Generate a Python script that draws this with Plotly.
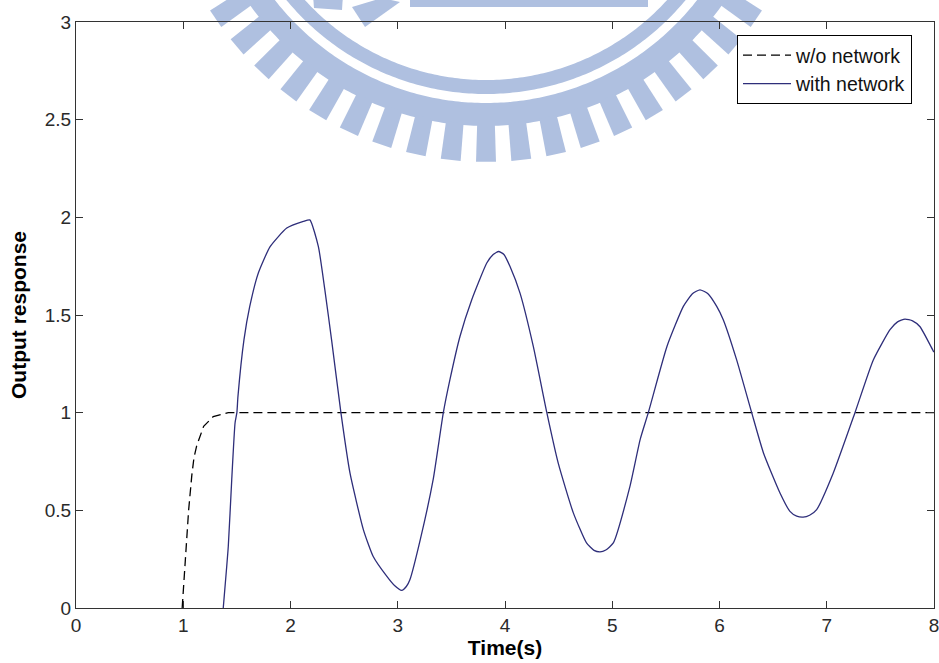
import numpy as np
import plotly.graph_objects as go

# ---------------- data ----------------
t_without = [0.99, 1.02, 1.05, 1.08, 1.10, 1.125, 1.19, 1.28, 1.42, 8.0]
y_without = [0.0, 0.25, 0.50, 0.68, 0.77, 0.83, 0.93, 0.98, 1.0, 1.0]

t_with = [1.373, 1.42, 1.452, 1.483, 1.50, 1.51, 1.566, 1.62, 1.70, 1.81, 1.965,
          2.12, 2.18, 2.26, 2.32, 2.383, 2.47, 2.555, 2.68, 2.77, 2.897, 2.97,
          3.037, 3.08, 3.114, 3.21, 3.33, 3.425, 3.487, 3.58, 3.69, 3.83, 3.89,
          3.94, 3.99, 4.047, 4.14, 4.264, 4.39, 4.497, 4.637, 4.76, 4.83, 4.886,
          4.94, 5.01, 5.165, 5.26, 5.336, 5.51, 5.663, 5.75, 5.818, 5.89, 5.974,
          6.035, 6.16, 6.30, 6.41, 6.564, 6.657, 6.72, 6.78, 6.84, 6.906, 7.06,
          7.263, 7.434, 7.59, 7.66, 7.73, 7.80, 7.87, 7.995, 8.0]
y_with = [0.0, 0.316, 0.657, 0.947, 1.0, 1.083, 1.373, 1.544, 1.715, 1.85, 1.945,
          1.979, 1.987, 1.85, 1.63, 1.373, 1.0, 0.69, 0.40, 0.265, 0.163, 0.115,
          0.09, 0.11, 0.146, 0.35, 0.657, 1.0, 1.17, 1.39, 1.578, 1.766, 1.81,
          1.825, 1.81, 1.748, 1.612, 1.339, 1.0, 0.74, 0.487, 0.333, 0.295, 0.287,
          0.297, 0.333, 0.623, 0.862, 1.0, 1.339, 1.544, 1.61, 1.629, 1.61, 1.544,
          1.476, 1.27, 1.0, 0.794, 0.589, 0.495, 0.47, 0.465, 0.475, 0.504, 0.69,
          1.0, 1.27, 1.425, 1.465, 1.479, 1.47, 1.44, 1.314, 1.31]

x_ticks = [0, 1, 2, 3, 4, 5, 6, 7, 8]
x_ticklabels = ["0", "1", "2", "3", "4", "5", "6", "7", "8"]
y_ticks = [0, 0.5, 1, 1.5, 2, 2.5, 3]
y_ticklabels = ["0", "0.5", "1", "1.5", "2", "2.5", "3"]

series_names = ["w/o network", "with network"]

# ---------------- layout geometry ----------------
W, H = 939, 663
ML, MR, MT, MB = 76, 5, 22, 55
PW, PH = W - ML - MR, H - MT - MB
FONT = "Liberation Sans, Arial, Helvetica, sans-serif"


def to_paper(px, py):
    return (px - ML) / PW, (H - MB - py) / PH


def poly_path(points):
    pts = [to_paper(x, y) for x, y in points]
    return "M " + " L ".join(f"{x:.5f},{y:.5f}" for x, y in pts) + " Z"


# ---------------- watermark (light-blue logo behind the plot) ----------------
WM = "#afc0e0"
cx, cy = 486.0, -165.0
shapes = []


def ring(r0, r1, n=260):
    th = np.linspace(0, np.pi, n)
    outer = [(cx + r1 * np.cos(a), cy + r1 * np.sin(a)) for a in th]
    inner = [(cx + r0 * np.cos(a), cy + r0 * np.sin(a)) for a in th[::-1]]
    return outer + inner


def wedge(r0, r1, ac, half):
    a0, a1 = ac - half, ac + half
    return [(cx + r0 * np.cos(a0), cy + r0 * np.sin(a0)),
            (cx + r1 * np.cos(a0), cy + r1 * np.sin(a0)),
            (cx + r1 * np.cos(a1), cy + r1 * np.sin(a1)),
            (cx + r0 * np.cos(a1), cy + r0 * np.sin(a1))]


wm_polys = [ring(245, 259), ring(268, 291)]
step = np.deg2rad(6.2)
half = np.deg2rad(1.75)
for k in range(-15, 16):
    wm_polys.append(wedge(289, 327, np.pi / 2 + k * step, half))
# inner pieces near the top edge
wm_polys.append([(410, -5), (648, -5), (648, 7), (410, 7)])
wm_polys.append([(313, -5), (343, -5), (342, 10), (314, 8)])
wm_polys.append([(352, 7), (382, -2), (400, 2), (365, 27)])

for p in wm_polys:
    shapes.append(dict(type="path", path=poly_path(p), xref="paper", yref="paper",
                       fillcolor=WM, line=dict(width=0), layer="below"))

# ---------------- figure ----------------
fig = go.Figure()
fig.add_trace(go.Scatter(x=t_without, y=y_without, mode="lines", name=series_names[0],
                         line=dict(color="#000000", width=1.3, dash="9px,5px")))
fig.add_trace(go.Scatter(x=t_with, y=y_with, mode="lines", name=series_names[1],
                         line=dict(color="#2e2e7a", width=1.3, shape="spline",
                                   smoothing=0.5)))

axis_common = dict(showgrid=False, zeroline=False, showline=True, linecolor="#333333",
                   linewidth=1, mirror="ticks", ticks="inside", ticklen=7,
                   tickcolor="#333333", tickwidth=1, ticklabeloverflow="allow",
                   tickfont=dict(family=FONT, size=19, color="#2a2a2a"))

fig.update_layout(
    width=W, height=H,
    margin=dict(l=ML, r=MR, t=MT, b=MB, autoexpand=False),
    paper_bgcolor="white", plot_bgcolor="rgba(0,0,0,0)",
    shapes=shapes,
    xaxis=dict(range=[0, 8], tickmode="array", tickvals=x_ticks, ticktext=x_ticklabels,
               title=dict(text="<b>Time(s)</b>", standoff=2,
                          font=dict(family=FONT, size=21, color="#000000")),
               **axis_common),
    yaxis=dict(range=[0, 3], tickmode="array", tickvals=y_ticks, ticktext=y_ticklabels,
               title=dict(text="<b>Output response</b>", standoff=12,
                          font=dict(family=FONT, size=21, color="#000000")),
               **axis_common),
    legend=dict(x=(912 - ML) / PW, y=(H - MB - 35) / PH, xanchor="right", yanchor="top",
                bgcolor="white", bordercolor="#000000", borderwidth=1,
                font=dict(family=FONT, size=19.5, color="#111111"),
                itemwidth=48, tracegroupgap=0),
    showlegend=True,
)

fig.write_html("out.html", config={"displayModeBar": False},
               post_script="document.body.style.margin='0';document.body.style.padding='0';")
